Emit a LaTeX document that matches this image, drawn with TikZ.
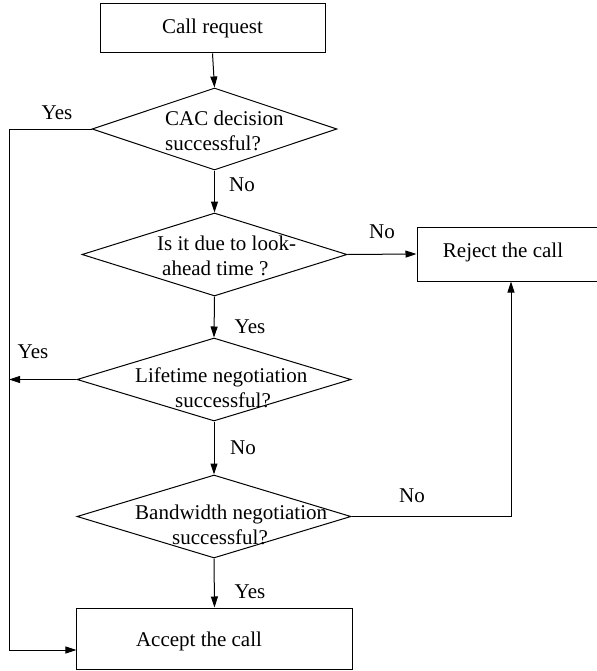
\documentclass[tikz,border=0pt]{standalone}
\usepackage{fontspec}
\setmainfont{Liberation Serif}
\usetikzlibrary{shapes.geometric,arrows.meta}

\begin{document}
\begin{tikzpicture}[
    x=1bp, y=-1bp,
    every node/.style={font=\fontsize{21bp}{25bp}\selectfont, inner sep=0pt},
    procbox/.style={draw, line width=1bp, rectangle},
    decision/.style={draw, line width=1bp, shape=diamond, minimum width=#1},
    decision/.default=274bp,
    flow/.style={line width=1bp, -{Triangle[length=11bp,width=7bp]}},
    plain/.style={line width=1bp},
    dtext/.style={anchor=west, align=left}
  ]
  \useasboundingbox (0,0) rectangle (597,671);
  \clip (0,0) rectangle (597,671);

  % process boxes
  \node[procbox, minimum width=225bp, minimum height=49bp] (start) at (212.5,28.5) {Call request};
  \node[procbox, minimum width=183bp, minimum height=54bp] (reject) at (508.5,254) {};
  \node (rejecttxt) at (503,252) {Reject the call};
  \node[procbox, minimum width=275bp, minimum height=61bp] (accept) at (214.5,638.5) {};
  \node (accepttxt) at (199,641) {Accept the call};

  % decisions
  \node[decision=245bp, minimum height=82bp] (cac) at (214.5,129) {};
  \node[dtext] (cactxt) at (165,130.5) {CAC decision\\successful?};

  \node[decision=265bp, minimum height=83bp] (look) at (214.5,254.5) {};
  \node[dtext] (looktxt) at (157,256) {Is it due to look-\\\hspace*{5bp}ahead time ?};

  \node[decision, minimum height=83bp] (life) at (214,379.5) {};
  \node[dtext] (lifetxt) at (135,387.5) {Lifetime negotiation\\\hspace*{40bp}successful?};

  \node[decision, minimum height=83bp] (band) at (214,516.5) {};
  \node[dtext] (bandtxt) at (135,524.5) {Bandwidth negotiation\\\hspace*{37bp}successful?};

  % helper points for the routed connectors
  \coordinate (leftrail) at (9,650);
  \coordinate (lifeout) at (9,379.5);
  \coordinate (rightrail) at (511,516.5);

  % connectors
  \draw[flow] (start.south) -- (cac.north);
  \draw[flow] (cac.south) -- (look.north);
  \draw[flow] (look.east) -- (reject.west);
  \draw[flow] (look.south) -- (life.north);
  \draw[flow] (life.south) -- (band.north);
  \draw[flow] (band.south) -- (accept.north);
  \draw[flow] (life.west) -- (lifeout);
  \draw[flow] (cac.west) -| (leftrail) -- (leftrail -| accept.west);
  \draw[flow] (band.east) -- (rightrail) -- (rightrail |- reject.south);

  % branch labels
  \node (y1) at (57,113) {Yes};
  \node (n1) at (242,185) {No};
  \node (n2) at (382,232) {No};
  \node (y2) at (250,327) {Yes};
  \node (y3) at (33,352) {Yes};
  \node (n3) at (243,448) {No};
  \node (n4) at (412,496) {No};
  \node (y4) at (250,592) {Yes};
\end{tikzpicture}
\end{document}
